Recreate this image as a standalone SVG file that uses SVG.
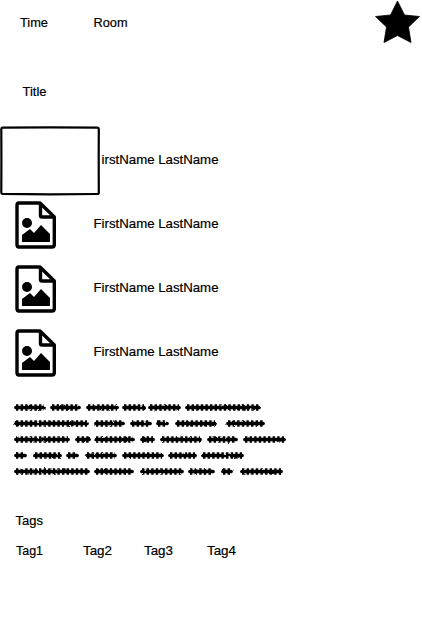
<svg xmlns="http://www.w3.org/2000/svg" width="422" height="621" viewBox="0 0 422 621">
<style>
text{font-family:"Liberation Sans",Arial,sans-serif;font-size:13px;fill:#000;stroke:#000;stroke-width:.2}
.ic{fill:none;stroke:#000;stroke-width:3.4;stroke-linejoin:round}
.a{stroke:#000;stroke-width:3.7;stroke-linecap:round}
.b{stroke:#000;stroke-width:6.6;stroke-dasharray:2.4 2.2;stroke-linecap:butt}
</style>
<defs>
<filter id="wob" x="-5%" y="-50%" width="110%" height="200%"><feTurbulence type="fractalNoise" baseFrequency="0.25" numOctaves="2" seed="7"/><feDisplacementMap in="SourceGraphic" scale="2" xChannelSelector="R" yChannelSelector="G"/><feGaussianBlur stdDeviation="0.5"/></filter>
<clipPath id="cut"><rect x="101.500" y="140" width="130" height="40"/></clipPath>
<g id="doc"><path class="ic" d="M19 203H40L54.300 217V244.500Q54.300 247 52 247H19Q17 247 17 244.500V205.500Q17 203 19 203Z"/><path class="ic" d="M40.500 203V215.500Q40.500 217 42 217H54.300" stroke-width="3"/><circle cx="27" cy="223" r="5"/><path d="M22 242V235L30 229L34 233L41 225L50 234V242Z"/></g>
<g id="words">
<line x1="16" y1="407.500" x2="44" y2="407.500"/><line x1="52" y1="407.500" x2="79" y2="407.500"/><line x1="88" y1="407.500" x2="117" y2="407.500"/><line x1="124" y1="407.500" x2="144" y2="407.500"/><line x1="150" y1="407.500" x2="179" y2="407.500"/><line x1="187" y1="407.500" x2="259" y2="407.500"/>
<line x1="16" y1="423.500" x2="87" y2="423.500"/><line x1="96" y1="423.500" x2="123" y2="423.500"/><line x1="132" y1="423.500" x2="150" y2="423.500"/><line x1="158" y1="423.500" x2="167" y2="423.500"/><line x1="177" y1="423.500" x2="215" y2="423.500"/><line x1="228" y1="423.500" x2="263" y2="423.500"/>
<line x1="16" y1="439.500" x2="68" y2="439.500"/><line x1="77" y1="439.500" x2="89" y2="439.500"/><line x1="96" y1="439.500" x2="133" y2="439.500"/><line x1="142" y1="439.500" x2="153" y2="439.500"/><line x1="162" y1="439.500" x2="200" y2="439.500"/><line x1="209" y1="439.500" x2="236" y2="439.500"/><line x1="245" y1="439.500" x2="284" y2="439.500"/>
<line x1="16" y1="455.500" x2="25" y2="455.500"/><line x1="35" y1="455.500" x2="60" y2="455.500"/><line x1="68" y1="455.500" x2="77" y2="455.500"/><line x1="87" y1="455.500" x2="115" y2="455.500"/><line x1="124" y1="455.500" x2="162" y2="455.500"/><line x1="170" y1="455.500" x2="195" y2="455.500"/><line x1="203" y1="455.500" x2="242" y2="455.500"/>
<line x1="16" y1="471.500" x2="88" y2="471.500"/><line x1="96" y1="471.500" x2="132" y2="471.500"/><line x1="142" y1="471.500" x2="182" y2="471.500"/><line x1="190" y1="471.500" x2="213" y2="471.500"/><line x1="223" y1="471.500" x2="231" y2="471.500"/><line x1="242" y1="471.500" x2="281" y2="471.500"/>
</g>
</defs>
<g id="time"><text x="20" y="27" textLength="28" lengthAdjust="spacingAndGlyphs">Time</text></g>
<g id="room"><text x="93.500" y="27" textLength="34" lengthAdjust="spacingAndGlyphs">Room</text></g>
<g id="star"><path d="M397.500 1L404.500 15L419.500 16.500L408.500 27L411 42.500L397.500 35.500L384 42.500L386.500 27L375.500 16.500L390.500 15Z" stroke="#000" stroke-width=".8" stroke-linejoin="round"/></g>
<g id="title"><text x="22.500" y="96" textLength="24" lengthAdjust="spacingAndGlyphs">Title</text></g>
<g id="person1"><text x="93.500" y="164" textLength="125" lengthAdjust="spacingAndGlyphs" clip-path="url(#cut)">FirstName LastName</text></g>
<g id="photo1"><path d="M2.500 127.600L50 127.300L97.500 127.600Q98.800 127.700 98.800 129L98.700 160L98.800 192.500Q98.800 194 97.500 194L50 194.300L2.500 193.800Q1.300 193.700 1.300 192.500L1.400 160L1.300 129Q1.300 127.700 2.500 127.600Z" fill="#fff" stroke="#000" stroke-width="2.200" stroke-linejoin="round"/></g>
<g id="person2"><use href="#doc"/><text x="93.500" y="228" textLength="125" lengthAdjust="spacingAndGlyphs">FirstName LastName</text></g>
<g id="person3"><use href="#doc" y="64"/><text x="93.500" y="292" textLength="125" lengthAdjust="spacingAndGlyphs">FirstName LastName</text></g>
<g id="person4"><use href="#doc" y="128"/><text x="93.500" y="356" textLength="125" lengthAdjust="spacingAndGlyphs">FirstName LastName</text></g>
<g id="abstract" filter="url(#wob)"><use href="#words" class="a"/><use href="#words" class="b"/></g>
<g id="tags"><text x="15.500" y="525" textLength="27.500" lengthAdjust="spacingAndGlyphs">Tags</text></g>
<g id="tag1"><text x="16" y="555" textLength="27" lengthAdjust="spacingAndGlyphs">Tag1</text></g>
<g id="tag2"><text x="83" y="555" textLength="29" lengthAdjust="spacingAndGlyphs">Tag2</text></g>
<g id="tag3"><text x="144" y="555" textLength="29" lengthAdjust="spacingAndGlyphs">Tag3</text></g>
<g id="tag4"><text x="207" y="555" textLength="29" lengthAdjust="spacingAndGlyphs">Tag4</text></g>
</svg>
